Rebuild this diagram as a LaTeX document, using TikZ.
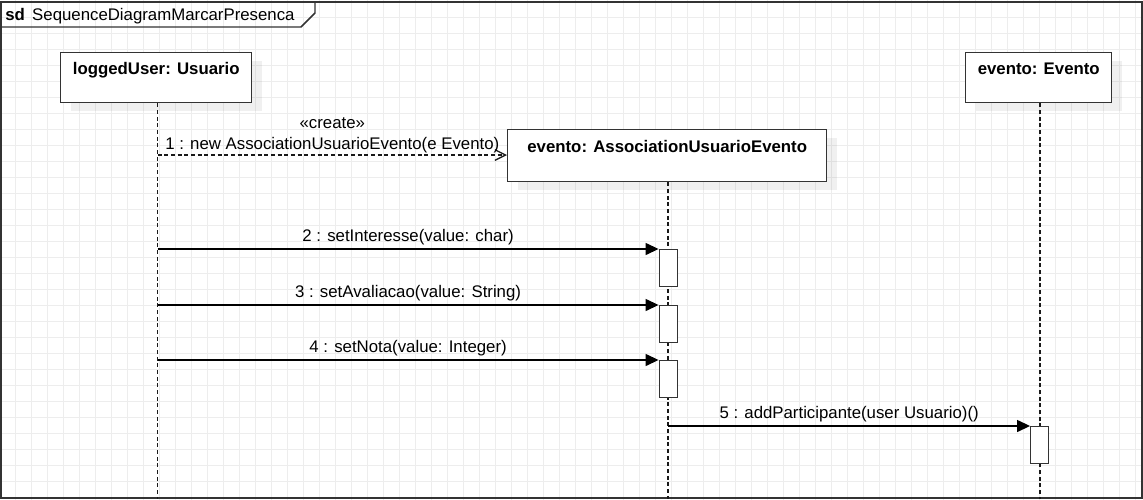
\documentclass[tikz,border=0pt]{standalone}
\usepackage{fontspec}
\setmainfont{Liberation Sans}
\usetikzlibrary{arrows.meta,shadows}
\begin{document}
\begin{tikzpicture}[x=0.75pt,y=-0.75pt,
  every node/.style={font=\fontsize{12.6pt}{15pt}\selectfont},
  gridline/.style={draw=black!7,line width=0.75pt},
  framebox/.style={draw=black!80,line width=1.5pt},
  lifebox/.style={draw=black!80,line width=1.1pt,fill=white,anchor=north west,
    inner xsep=0pt,inner ysep=0pt,text height=16.5pt,
    font=\fontsize{12.6pt}{15pt}\selectfont\bfseries,
    drop shadow={shadow xshift=7.5pt,shadow yshift=-6pt,fill=black,opacity=0.06}},
  lifeline/.style={draw=black!90,line width=1.3pt,dash pattern=on 3pt off 2pt},
  actbox/.style={draw=black!80,line width=1pt,fill=white,anchor=north,
    minimum width=13.5pt,minimum height=27.75pt,inner sep=0pt},
  msg/.style={draw=black,line width=1pt,-{Triangle[length=9.75pt,width=9pt]}},
  createmsg/.style={draw=black!90,line width=1.1pt,dash pattern=on 3pt off 2pt,
    -{Straight Barb[length=8pt,width=8pt,line width=1pt]}},
  msglabel/.style={midway,anchor=base,inner sep=0pt}]
\useasboundingbox (0,0) rectangle (1143,500);
% grid
\foreach \gx in {15,31,...,1143} \draw[gridline] (\gx,0) -- (\gx,500);
\foreach \gy in {1,17,...,500} \draw[gridline] (0,\gy) -- (1143,\gy);
% frame
\node[framebox,draw,anchor=north west,minimum width=1141*0.75pt,minimum height=496*0.75pt,inner sep=0pt] (frame) at (0,1) {};
\coordinate (tabA) at (0,27);
\coordinate (tabB) at (301,27);
\coordinate (tabC) at (315,13);
\coordinate (tabD) at (315,1);
\draw[framebox,line width=1.1pt] (tabA) -- (tabB) -- (tabC) -- (tabD);
\node[anchor=base west,inner sep=0pt] (title) at (5,20) {\textbf{sd}\hspace{5.5pt}SequenceDiagramMarcarPresenca};
% lifeline heads
\node[lifebox,minimum width=191*0.75pt,text depth=21pt] (user) at (60,52) {loggedUser: Usuario};
\node[lifebox,minimum width=146*0.75pt,text depth=21pt] (evt) at (965,52) {evento: Evento};
% lifelines
\coordinate (userTop) at ([xshift=1pt]user.south);
\coordinate (evtTop) at ([xshift=0.75pt]evt.south);
\draw[lifeline] (userTop) -- (userTop |- frame.south);
\draw[lifeline] (evtTop) -- (evtTop |- frame.south);
% create message
\coordinate (m1start) at (157,155);
\node[lifebox,minimum width=319*0.75pt,text height=17.25pt,text depth=21.75pt] (assoc) at (507,129) {evento: AssociationUsuarioEvento};
\coordinate (assocTop) at ([xshift=0.75pt]assoc.south);
\draw[lifeline] (assocTop) -- (assocTop |- frame.south);
\draw[createmsg] (userTop |- m1start) -- (assoc.west |- m1start)
  node[msglabel,yshift=4.5pt] (l1) {1 : new AssociationUsuarioEvento(e Evento)}
  node[msglabel,yshift=20.25pt] (l1s) {«create»};
% activations
\node[actbox] (a2) at (assocTop |- 0,249) {};
\node[actbox] (a3) at (assocTop |- 0,305) {};
\node[actbox] (a4) at (assocTop |- 0,360) {};
\node[actbox] (a5) at (evtTop |- 0,426) {};
% messages
\draw[msg] (userTop |- a2.north) -- (a2.north west) node[msglabel,yshift=6pt] (l2) {2 : setInteresse(value: char)};
\draw[msg] (userTop |- a3.north) -- (a3.north west) node[msglabel,yshift=6pt] (l3) {3 : setAvaliacao(value: String)};
\draw[msg] (userTop |- a4.north) -- (a4.north west) node[msglabel,yshift=6pt] (l4) {4 : setNota(value: Integer)};
\draw[msg] (assocTop |- a5.north) -- (a5.north west) node[msglabel,yshift=6pt] (l5) {5 : addParticipante(user Usuario)()};
\end{tikzpicture}
\end{document}
